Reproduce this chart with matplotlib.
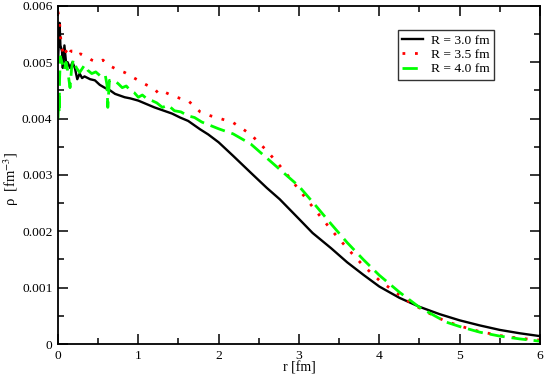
import matplotlib
matplotlib.use("Agg")
import matplotlib.pyplot as plt
from matplotlib.ticker import MultipleLocator, FuncFormatter

r_black = [0.0, 0.02, 0.03, 0.05, 0.06, 0.08, 0.1, 0.12, 0.15, 0.18, 0.21, 0.24, 0.27, 0.3, 0.33,
           0.4, 0.46, 0.52, 0.58, 0.65, 0.71, 0.77, 0.83, 0.9, 1.0, 1.1, 1.2, 1.3, 1.42, 1.52, 1.62,
           1.77, 1.87, 2.0, 2.18, 2.4, 2.6, 2.76, 3.0, 3.17, 3.4, 3.6, 3.8, 4.0, 4.25, 4.5, 4.75,
           5.0, 5.25, 5.5, 5.75, 6.0]
rho_black = [0.0050, 0.0057, 0.0053, 0.0052, 0.0049, 0.0053, 0.0050, 0.0050, 0.0049, 0.0050, 0.0049,
             0.0047, 0.0048, 0.00472, 0.00475, 0.0047, 0.00468, 0.0046, 0.00455, 0.0045, 0.00444,
             0.00441, 0.00438, 0.00436, 0.00432, 0.00426, 0.0042, 0.00415, 0.00409, 0.00402, 0.00396,
             0.00381, 0.00372, 0.00358, 0.00334, 0.00304, 0.00277, 0.00257, 0.00222, 0.00197, 0.0017,
             0.00145, 0.00123, 0.00102, 0.00082, 0.00066, 0.00053, 0.00042, 0.00033, 0.00025,
             0.00019, 0.00014]

r_red = [0.0, 0.01, 0.02, 0.03, 0.04, 0.06, 0.08, 0.1, 0.13, 0.16, 0.19, 0.23, 0.28, 0.33, 0.38, 0.42,
         0.5, 0.56, 0.63, 0.71, 0.77, 0.83, 0.9, 1.0, 1.1, 1.2, 1.25, 1.3, 1.42, 1.52, 1.62, 1.77, 1.9,
         2.0, 2.18, 2.4, 2.6, 2.8, 3.0, 3.2, 3.4, 3.6, 3.8, 4.0, 4.2, 4.4, 4.6, 4.8, 5.0, 5.25, 5.5,
         5.75, 6.0]
rho_red = [0.0059, 0.0058, 0.0057, 0.0055, 0.0053, 0.0052, 0.0051, 0.0052, 0.0051, 0.0052, 0.0052,
           0.00512, 0.00515, 0.00512, 0.00508, 0.00504, 0.0050, 0.00504, 0.00495, 0.00489, 0.00485,
           0.00482, 0.00476, 0.00468, 0.0046, 0.00453, 0.00445, 0.00449, 0.00441, 0.00436, 0.00432,
           0.00412, 0.00405, 0.00401, 0.00393, 0.00372, 0.00343, 0.0031, 0.00274, 0.00238, 0.00203,
           0.0017, 0.00139, 0.00113, 0.00092, 0.00072, 0.00056, 0.00042, 0.00032, 0.00022, 0.00015,
           0.0001, 0.00007]

r_green = [0.0, 0.01, 0.015, 0.02, 0.03, 0.05, 0.08, 0.1, 0.12, 0.15, 0.17, 0.19, 0.23, 0.27, 0.33,
           0.37, 0.42, 0.47, 0.55, 0.59, 0.61, 0.62, 0.64, 0.7, 0.75, 0.8, 0.85, 0.9, 0.95, 1.0, 1.05,
           1.1, 1.17, 1.23, 1.3, 1.37, 1.45, 1.53, 1.62, 1.7, 1.79, 2.0, 2.18, 2.4, 2.6, 2.8, 3.0,
           3.2, 3.4, 3.6, 3.8, 4.0, 4.25, 4.5, 4.83, 5.0, 5.25, 5.5, 5.75, 6.0]
rho_green = [0.0040, 0.0044, 0.0041, 0.0047, 0.0051, 0.0050, 0.00486, 0.0050, 0.00486, 0.00455,
             0.0049, 0.00504, 0.0049, 0.00482, 0.00495, 0.00486, 0.0048, 0.00483, 0.00473, 0.00476,
             0.0046, 0.0042, 0.00468, 0.00468, 0.00462, 0.00455, 0.00458, 0.0045, 0.00446, 0.00438,
             0.00442, 0.00436, 0.00432, 0.00428, 0.0042, 0.00424, 0.00414, 0.00412, 0.00405, 0.00402,
             0.00394, 0.00382, 0.00373, 0.00355, 0.0033, 0.00305, 0.0028, 0.00247, 0.00213, 0.0018,
             0.0015, 0.00122, 0.00092, 0.00065, 0.00039, 0.00031, 0.00021, 0.00014, 0.00009, 0.00005]

labels = ["R = 3.0 fm", "R = 3.5 fm", "R = 4.0 fm"]

plt.rcParams['font.family'] = ['Liberation Serif', 'DejaVu Serif']
plt.rcParams['mathtext.fontset'] = 'stix'

fig = plt.figure(figsize=(5.45, 3.76), dpi=100)
ax = fig.add_axes([0.1064, 0.0851, 0.8844, 0.899])

ax.plot(r_black, rho_black, color='black', lw=1.7, label=labels[0])
ax.plot(r_red, rho_red, color='red', lw=2.0, linestyle=(0, (1, 3.5)), label=labels[1])
ax.plot(r_green, rho_green, color='#00ff00', lw=2.0, linestyle=(0, (5.5, 2.5)), label=labels[2])

ax.set_xlim(0, 6)
ax.set_ylim(0, 0.006)
ax.xaxis.set_major_locator(MultipleLocator(1))
ax.xaxis.set_minor_locator(MultipleLocator(0.5))
ax.yaxis.set_major_locator(MultipleLocator(0.001))
ax.yaxis.set_minor_locator(MultipleLocator(0.0005))
ax.yaxis.set_major_formatter(FuncFormatter(lambda v, p: "0" if abs(v) < 1e-12 else f"{v:.3f}"))
ax.tick_params(which='both', direction='in', top=True, right=True, labelsize=9.7, width=1.1)
ax.tick_params(which='major', length=7, pad=4)
ax.tick_params(which='minor', length=4)
for s in ax.spines.values():
    s.set_linewidth(1.3)

ax.set_xlabel("r [fm]", fontsize=10)
ax.xaxis.set_label_coords(0.5, -0.052)
ax.set_ylabel(r"ρ  [fm$^{-3}$]", fontsize=10.5)
ax.yaxis.set_label_coords(-0.077, 0.49)

leg = ax.legend(loc='upper right', bbox_to_anchor=(0.905, 0.929), borderaxespad=0, fontsize=9.7,
                frameon=True, fancybox=False, edgecolor='black', handlelength=1.5,
                borderpad=0.35, labelspacing=0.12, handletextpad=0.6)
leg.get_frame().set_linewidth(1.0)

fig.savefig("out.png", dpi=100)
